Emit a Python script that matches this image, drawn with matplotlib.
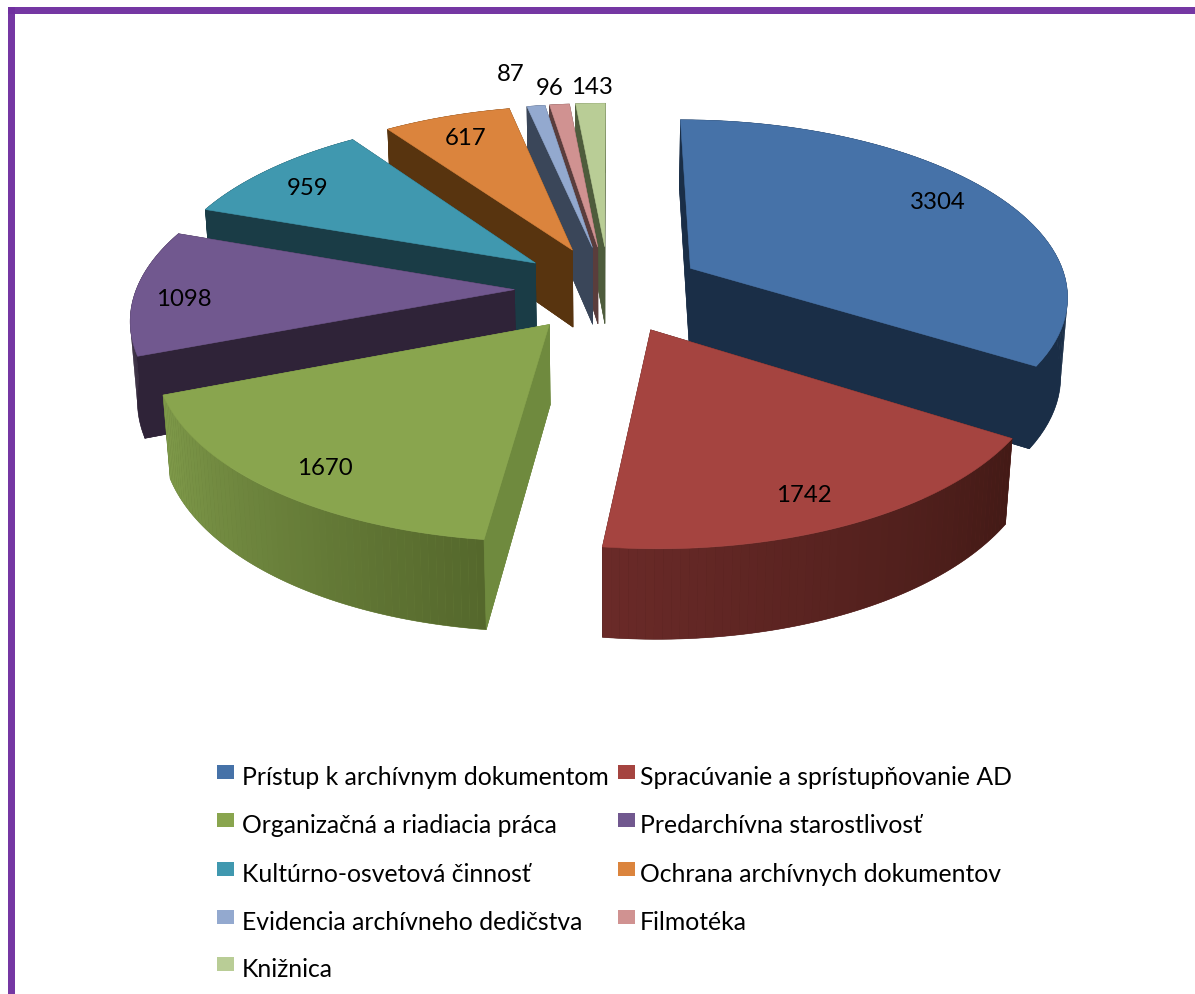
import numpy as np
import matplotlib
matplotlib.use("Agg")
import matplotlib.pyplot as plt
from matplotlib.patches import Rectangle

plt.rcParams['font.family'] = ['Lato', 'DejaVu Sans']

categories = [
    'Prístup k archívnym dokumentom',
    'Spracúvanie a sprístupňovanie AD',
    'Organizačná a riadiacia práca',
    'Predarchívna starostlivosť',
    'Kultúrno-osvetová činnosť',
    'Ochrana archívnych dokumentov',
    'Evidencia archívneho dedičstva',
    'Filmotéka',
    'Knižnica',
]
values = [3304, 1742, 1670, 1098, 959, 617, 87, 96, 143]

top_colors = ['#4672a8', '#a54440', '#89a54e', '#71588f', '#4098af',
              '#db843d', '#93a9cf', '#d09291', '#b9cd96']
wall_colors = ['#1a2e47', '#431a16', '#6f8a3e', '#2f2338', '#1a3c46',
               '#58340f', '#3a4659', '#5a3d3c', '#4e5c3c']
# rim colour at the start and end of each slice, only red and green have a visible gradient
rim_start = ['#1a2e47', '#431a16', '#55682c', '#2f2338', '#1a3c46',
             '#58340f', '#3a4659', '#5a3d3c', '#4e5c3c']
rim_end = ['#1a2e47', '#6a2a28', '#7f9a4a', '#2f2338', '#1a3c46',
           '#58340f', '#3a4659', '#5a3d3c', '#4e5c3c']

# label distance along the middle of the slice, plus a small shift in pixels
label_r = [0.83, 0.84, 0.81, 0.86, 0.82, 0.80, 1.25, 1.10, 1.10]
label_dx = [-4, -10, -5, -5, -7, -4, -13, -7, 3]
label_dy = [-3, 5, 12, 7, 2, -3, -2, -5, -4]

# perspective set up, in pixels of the output picture
cx, cy = 609, 290
A, B, C = 378, 175, 80
k, kz = 0.142, 0.015
explode = 0.25


def project(X, Y, Z=0.0):
    w = 1 + k * Y + kz * Z
    return cx + A * X / w, cy + (-B * Y + C * Z) / w


def radial_wall(ax, ex, ey, a, color):
    px = ex + np.sin(a)
    py = ey + np.cos(a)
    pts = [project(ex, ey), project(px, py), project(px, py, 1), project(ex, ey, 1)]
    ax.fill(*zip(*pts), color=color, lw=0.4, zorder=1)


fig = plt.figure(figsize=(11.95, 9.95), dpi=100)
ax = fig.add_axes([0, 0, 1, 1])
ax.set_xlim(0, 1195)
ax.set_ylim(995, 0)
ax.axis('off')

# purple frame, right and bottom sides are cut off in the original
ax.add_patch(Rectangle((8, 8), 1187, 7, color='#7030a0', lw=0, alpha=0.97))
ax.add_patch(Rectangle((8, 8), 7, 987, color='#7030a0', lw=0, alpha=0.97))

total = sum(values)
edges = np.radians(np.cumsum([0] + values) / total * 360)
mids = (edges[:-1] + edges[1:]) / 2

# far slices first, near slices paint over them
order = np.argsort(-np.cos(mids))
for i in order:
    ex = explode * np.sin(mids[i])
    ey = explode * np.cos(mids[i])
    t = np.linspace(edges[i], edges[i + 1], 60)
    rx = ex + np.sin(t)
    ry = ey + np.cos(t)

    # back walls
    radial_wall(ax, ex, ey, edges[i], wall_colors[i])
    radial_wall(ax, ex, ey, edges[i + 1], wall_colors[i])

    # outer wall: one solid shape under the strips so the seams do not show
    c0 = np.array(matplotlib.colors.to_rgb(rim_start[i]))
    c1 = np.array(matplotlib.colors.to_rgb(rim_end[i]))
    outline = [project(x, y) for x, y in zip(rx, ry)] + \
              [project(x, y, 1) for x, y in zip(rx[::-1], ry[::-1])]
    ax.fill(*zip(*outline), color=(c0 + c1) / 2, lw=0.4, zorder=1)
    for j in range(len(t) - 1):
        f = j / (len(t) - 2)
        pts = [project(rx[j], ry[j]), project(rx[j + 1], ry[j + 1]),
               project(rx[j + 1], ry[j + 1], 1), project(rx[j], ry[j], 1)]
        ax.fill(*zip(*pts), facecolor=c0 + (c1 - c0) * f, edgecolor='none', lw=0, zorder=1)

    # the wall facing the viewer goes over the rim
    if np.sin(edges[i]) < 0.2:
        radial_wall(ax, ex, ey, edges[i], wall_colors[i])
    if np.sin(edges[i + 1]) > 0.2:
        radial_wall(ax, ex, ey, edges[i + 1], wall_colors[i])

    top = [project(ex, ey)] + [project(x, y) for x, y in zip(rx, ry)]
    ax.fill(*zip(*top), color=top_colors[i], lw=0.4, zorder=1)

# data labels
for i, v in enumerate(values):
    r = explode + label_r[i]
    x, y = project(r * np.sin(mids[i]), r * np.cos(mids[i]))
    ax.text(x + label_dx[i], y + label_dy[i], str(v), fontsize=17.3, color='black',
            ha='center', va='center', zorder=5)

# legend, two columns filled row by row
col_box = [217, 618]
col_text = [242, 640]
row_base = [785, 833, 882, 930, 977]
for i, name in enumerate(categories):
    row, col = divmod(i, 2)
    base = row_base[row]
    ax.add_patch(Rectangle((col_box[col], base - 19), 17, 14, color=top_colors[i], lw=0))
    ax.text(col_text[col], base, name, fontsize=17.8, color='black', ha='left', va='baseline')

fig.savefig('out.png', dpi=100)
